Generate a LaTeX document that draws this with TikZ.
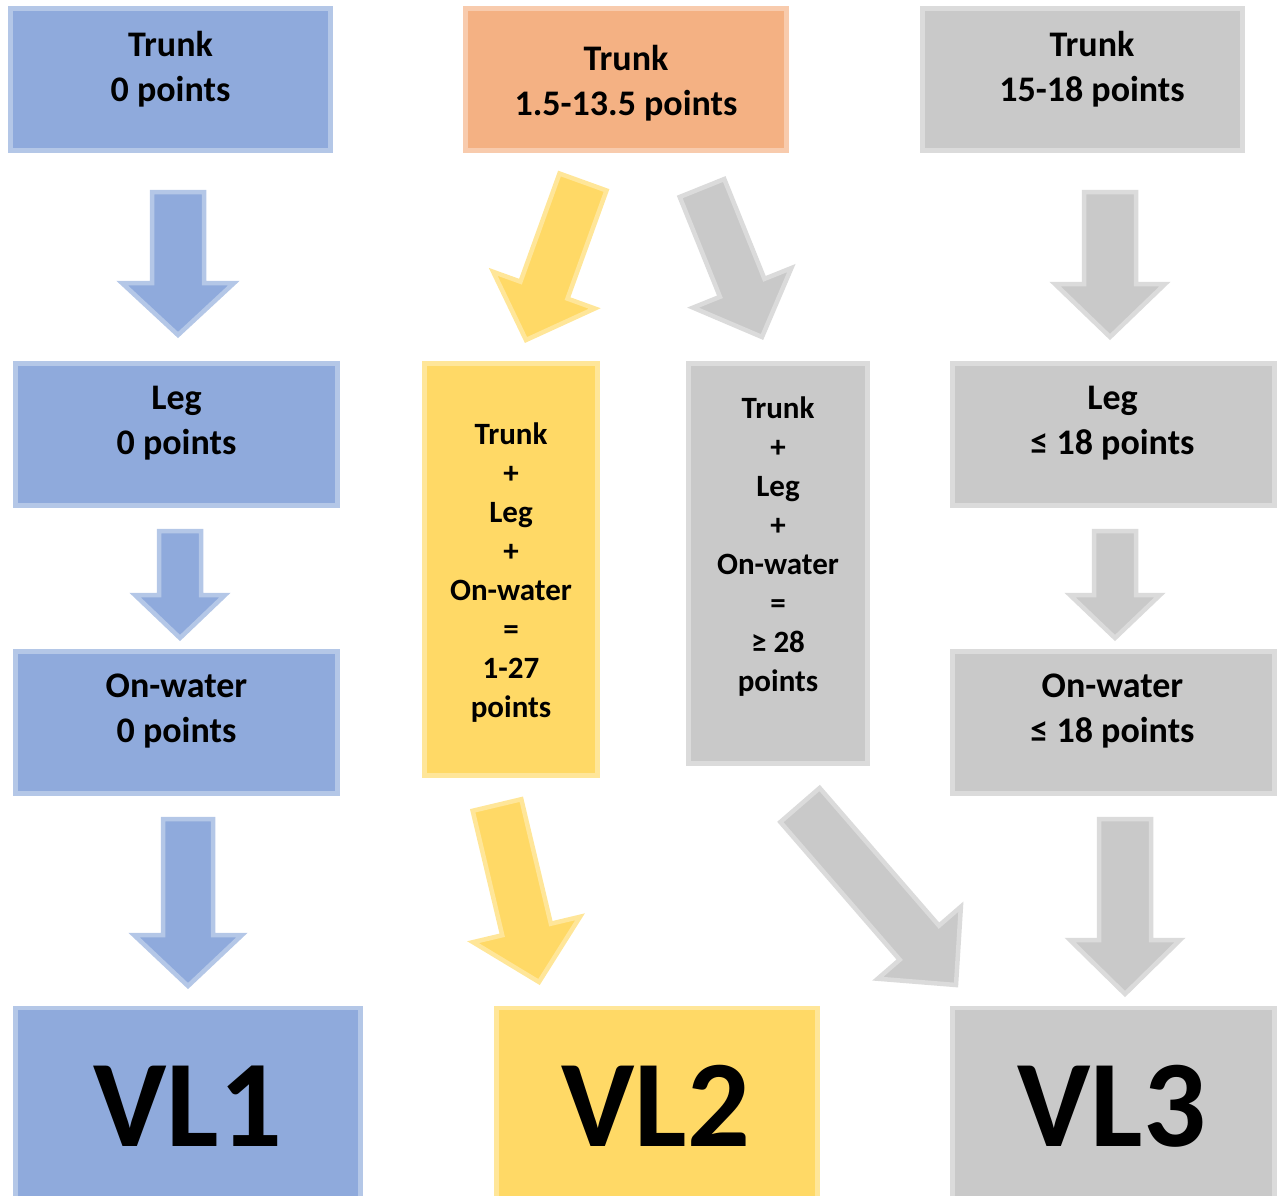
\documentclass[tikz,border=0pt]{standalone}
\usepackage{fontspec}
\setmainfont{Carlito}
\usetikzlibrary{calc}
\definecolor{lvlblue}{HTML}{8FAADC}
\definecolor{lvlblueedge}{HTML}{B4C7E7}
\definecolor{lvlorange}{HTML}{F4B183}
\definecolor{lvlorangeedge}{HTML}{F8CBAD}
\definecolor{lvlyellow}{HTML}{FFD966}
\definecolor{lvlyellowedge}{HTML}{FFE699}
\definecolor{lvlgray}{HTML}{C9C9C9}
\definecolor{lvlgrayedge}{HTML}{DBDBDB}
\tikzset{
    lvlbox/.style={rectangle, draw=#1edge, fill=#1, line width=4.5pt, inner sep=0pt},
    lvltext/.style={font=\fontsize{36}{45}\selectfont\bfseries, align=center, inner sep=0pt},
    sumtext/.style={font=\fontsize{31}{39}\selectfont\bfseries, align=center, inner sep=0pt},
    vltext/.style={font=\fontsize{124}{124}\selectfont\bfseries, inner sep=0pt},
    lvlarrow/.style={draw=#1edge, fill=#1, line width=4.5pt, line join=miter}
}
% block arrow from (#1s) to (#1t): #2 colour, #3 shaft half width, #4 head half width, #5 head length
\newcommand{\blockarrow}[5]{%
    \coordinate (#1n) at ($(#1t)!#5pt!(#1s)$);
    \draw[lvlarrow=#2] ($(#1s)!#3pt!90:(#1t)$) -- ($(#1n)!#3pt!90:(#1t)$) -- ($(#1n)!#4pt!90:(#1t)$) -- (#1t)
        -- ($(#1n)!#4pt!-90:(#1t)$) -- ($(#1n)!#3pt!-90:(#1t)$) -- ($(#1s)!#3pt!-90:(#1t)$) -- cycle;
}

\begin{document}
\begin{tikzpicture}[x=1pt, y=-1pt]
\clip (0,0) rectangle (1278,1195);

% top row
\node[lvlbox=lvlblue, minimum width=320pt, minimum height=142pt] (trunkA) at (170.5,79.5) {};
\node[lvlbox=lvlorange, minimum width=321pt, minimum height=142pt] (trunkB) at (626,79.5) {};
\node[lvlbox=lvlgray, minimum width=320pt, minimum height=142pt] (trunkC) at (1082.5,79.5) {};
\node[lvltext] (trunkAtxt) at (170.5,69) {Trunk\\0 points};
\node[lvltext] (trunkBtxt) at (626,83) {Trunk\\1.5-13.5 points};
\node[lvltext] (trunkCtxt) at (1092,69) {Trunk\\15-18 points};

% middle rows
\node[lvlbox=lvlblue, minimum width=322pt, minimum height=142pt] (legA) at (176.5,434.5) {};
\node[lvlbox=lvlblue, minimum width=322pt, minimum height=142pt] (waterA) at (176.5,722.5) {};
\node[lvlbox=lvlyellow, minimum width=173pt, minimum height=412pt] (sumB) at (511,569.5) {};
\node[lvlbox=lvlgray, minimum width=179pt, minimum height=400pt] (sumC) at (778,563.5) {};
\node[lvlbox=lvlgray, minimum width=322pt, minimum height=142pt] (legC) at (1113.5,434.5) {};
\node[lvlbox=lvlgray, minimum width=322pt, minimum height=142pt] (waterC) at (1113.5,722.5) {};
\node[lvltext] (legAtxt) at (176.5,423) {Leg\\0 points};
\node[lvltext] (waterAtxt) at (176.5,711) {On-water\\0 points};
\node[sumtext] (sumBtxt) at (511,573) {Trunk\\+\\Leg\\+\\On-water\\=\\1-27\\points};
\node[sumtext] (sumCtxt) at (778,547) {Trunk\\+\\Leg\\+\\On-water\\=\\≥ 28\\points};
\node[lvltext] (legCtxt) at (1112.5,423) {Leg\\≤ 18 points};
\node[lvltext] (waterCtxt) at (1112.5,711) {On-water\\≤ 18 points};

% bottom row
\node[lvlbox=lvlblue, minimum width=345pt, minimum height=200pt] (vlA) at (188,1108) {};
\node[lvlbox=lvlyellow, minimum width=321pt, minimum height=200pt] (vlB) at (657,1108) {};
\node[lvlbox=lvlgray, minimum width=322pt, minimum height=200pt] (vlC) at (1113.5,1108) {};
\node[vltext] (vlAtxt) at (188,1106) {VL1};
\node[vltext] (vlBtxt) at (656,1106) {VL2};
\node[vltext] (vlCtxt) at (1112,1106) {VL3};

% arrows
\coordinate (a1s) at (178,192);   \coordinate (a1t) at (178,335);
\coordinate (a2s) at (180,531);   \coordinate (a2t) at (180,638);
\coordinate (a3s) at (188,819);   \coordinate (a3t) at (188,986);
\coordinate (a4s) at (1110,192);  \coordinate (a4t) at (1110,337);
\coordinate (a5s) at (1115,531);  \coordinate (a5t) at (1115,638);
\coordinate (a6s) at (1125,819);  \coordinate (a6t) at (1125,994);
\coordinate (a7s) at (583,182);   \coordinate (a7t) at (526,340);
\coordinate (a8s) at (702,188);   \coordinate (a8t) at (762,337);
\coordinate (a9s) at (497,805);   \coordinate (a9t) at (539,982);
\coordinate (a10s) at (800,805);  \coordinate (a10t) at (956,985);

\blockarrow{a1}{lvlblue}{26}{56}{52}
\blockarrow{a2}{lvlblue}{21}{45}{43}
\blockarrow{a3}{lvlblue}{25}{54}{51}
\blockarrow{a4}{lvlgray}{26}{55}{53}
\blockarrow{a5}{lvlgray}{21}{45}{43}
\blockarrow{a6}{lvlgray}{26}{55}{54}
\blockarrow{a7}{lvlyellow}{25}{54}{53}
\blockarrow{a8}{lvlgray}{24}{53}{53}
\blockarrow{a9}{lvlyellow}{25}{55}{54}
\blockarrow{a10}{lvlgray}{26}{55}{56}

\end{tikzpicture}
\end{document}
